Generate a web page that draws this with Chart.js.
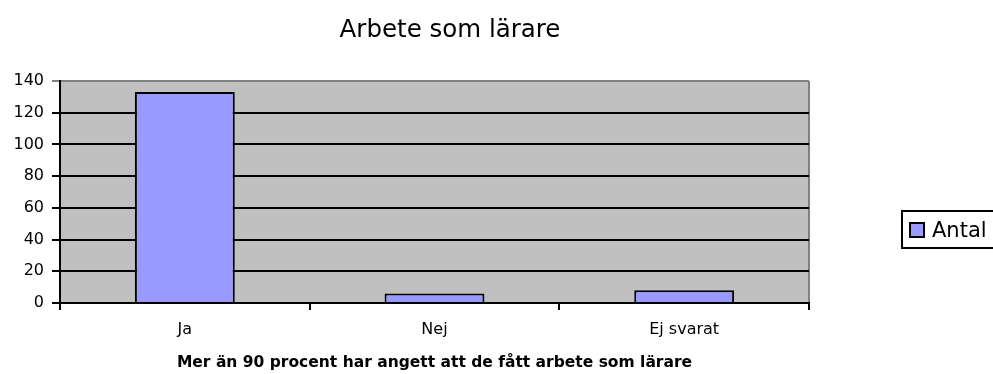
<!DOCTYPE html>
<html lang="sv">
<head>
<meta charset="utf-8">
<title>Arbete som lärare</title>
<script src="https://cdn.jsdelivr.net/npm/chart.js@4/dist/chart.umd.min.js"></script>
<style>
  html, body { margin: 0; padding: 0; background: #ffffff; }
  #wrap { position: relative; width: 993px; height: 374px; }
</style>
</head>
<body>
<div id="wrap"><canvas id="chart" width="993" height="374"></canvas></div>
<script>
// Survey answers: did the respondent get work as a teacher?
const categories = ['Ja', 'Nej', 'Ej svarat'];
const antal = [133, 6, 8];
const seriesLabel = 'Antal';
const chartTitle = 'Arbete som lärare';
const axisNote = 'Mer än 90 procent har angett att de fått arbete som lärare';
const yTicks = [0, 20, 40, 60, 80, 100, 120, 140];

const BAR_FILL = '#9999ff';
const PLOT_BG = '#c0c0c0';
const FONT = '"DejaVu Sans", Verdana, sans-serif';

// Grey plot area, heading and a boxed legend on the right.
const decorations = {
  id: 'decorations',
  beforeDraw(chart) {
    const { ctx, chartArea: a } = chart;
    ctx.save();
    ctx.fillStyle = PLOT_BG;
    ctx.fillRect(a.left, a.top, a.right - a.left, a.bottom - a.top);
    ctx.strokeStyle = '#808080';
    ctx.lineWidth = 2;
    ctx.beginPath();
    ctx.moveTo(a.right, a.top);
    ctx.lineTo(a.right, a.bottom);
    ctx.stroke();
    ctx.restore();
  },
  afterDraw(chart) {
    const { ctx } = chart;
    ctx.save();
    // heading
    ctx.fillStyle = '#000000';
    ctx.font = '24.5px ' + FONT;
    ctx.textAlign = 'center';
    ctx.textBaseline = 'alphabetic';
    ctx.fillText(chartTitle, 450, 37);

    // legend box
    const ds = chart.data.datasets[0];
    ctx.lineWidth = 2;
    ctx.strokeStyle = '#000000';
    ctx.strokeRect(902, 211, 100, 37);
    ctx.fillStyle = ds.backgroundColor;
    ctx.fillRect(910, 223, 14, 14);
    ctx.strokeRect(910, 223, 14, 14);
    ctx.fillStyle = '#000000';
    ctx.font = '21px ' + FONT;
    ctx.textAlign = 'left';
    ctx.fillText(ds.label, 932, 237);
    ctx.restore();
  }
};

new Chart(document.getElementById('chart'), {
  type: 'bar',
  data: {
    labels: categories,
    datasets: [{
      label: seriesLabel,
      data: antal,
      backgroundColor: BAR_FILL,
      borderColor: '#000000',
      borderWidth: 2,
      borderSkipped: 'bottom',
      categoryPercentage: 1.0,
      barPercentage: 0.4
    }]
  },
  options: {
    responsive: false,
    animation: false,
    devicePixelRatio: 1,
    layout: { padding: { left: 0, right: 184, top: 81, bottom: 0 } },
    plugins: {
      legend: { display: false },
      title: { display: false },
      tooltip: { enabled: false }
    },
    scales: {
      x: {
        offset: true,
        grid: {
          offset: true,
          drawOnChartArea: false,
          drawTicks: true,
          tickLength: 7,
          color: '#000000',
          lineWidth: 2
        },
        border: { display: true, color: '#000000', width: 2 },
        ticks: {
          color: '#000000',
          font: { family: FONT, size: 16 },
          padding: 10,
          maxRotation: 0
        },
        title: {
          display: true,
          text: axisNote,
          color: '#000000',
          font: { family: FONT, size: 15.5, weight: 'bold' },
          padding: { top: 0, bottom: 2 }
        },
        afterFit(scale) { scale.height = 71; }
      },
      y: {
        min: 0,
        max: 140,
        afterBuildTicks(scale) { scale.ticks = yTicks.map(v => ({ value: v })); },
        grid: {
          color: (c) => (c.tick && c.tick.value === 140 ? '#808080' : '#000000'),
          lineWidth: 2,
          drawTicks: true,
          tickLength: 8
        },
        border: { display: true, color: '#000000', width: 2 },
        ticks: {
          color: '#000000',
          font: { family: FONT, size: 16 },
          padding: 8
        },
        afterFit(scale) { scale.width = 60; }
      }
    }
  },
  plugins: [decorations]
});
</script>
</body>
</html>
